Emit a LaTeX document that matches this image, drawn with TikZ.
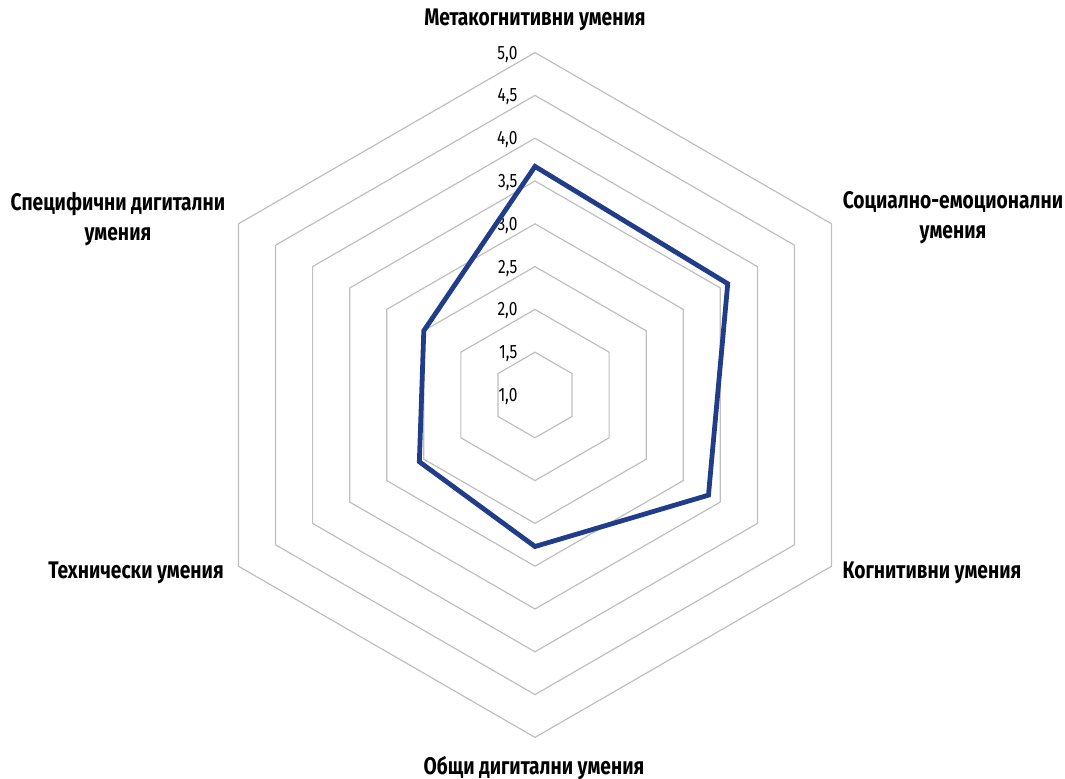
\documentclass[tikz,border=0pt]{standalone}
\usepackage{fontspec}
\setmainfont{Fira Sans}[FakeStretch=0.8]
\usepackage{xcolor}
\definecolor{gridgray}{RGB}{191,191,191}
\definecolor{seriesblue}{RGB}{33,61,138}
\tikzset{
	gridline/.style={draw=gridgray,line width=0.9pt},
	seriesline/.style={draw=seriesblue,line width=3.6pt,line join=miter},
	ticklabel/.style={anchor=east,inner sep=0pt,xshift=-13pt,yshift=-1.2pt,font=\fontsize{14.5}{16}\selectfont},
	axislabel/.style={align=center,inner sep=0pt,font=\fontsize{18}{22.5}\selectfont\bfseries}
}

\begin{document}
\begin{tikzpicture}[line cap=round,line join=miter,x=0.75pt,y=0.75pt]
		\useasboundingbox (0,0) rectangle (1065,779);
		\coordinate (O) at (535,384);
		% hexagonal grid, 1,5 ... 5,0
		\foreach \r in {1,...,8}
			\draw [gridline] ([shift={(90:\r*42.8)}]O) -- ([shift={(30:\r*42.8)}]O) -- ([shift={(-30:\r*42.8)}]O) -- ([shift={(-90:\r*42.8)}]O) -- ([shift={(210:\r*42.8)}]O) -- ([shift={(150:\r*42.8)}]O) -- cycle;
		% scale labels
		\foreach \r/\t in {0/{1,0},1/{1,5},2/{2,0},3/{2,5},4/{3,0},5/{3,5},6/{4,0},7/{4,5},8/{5,0}}
			\node [ticklabel] (tick\r) at ([shift={(90:\r*42.8)}]O) {\t};
		% data
		\coordinate (p1) at ([shift={(90:2.67*85.6)}]O);
		\coordinate (p2) at ([shift={(30:2.60*85.6)}]O);
		\coordinate (p3) at ([shift={(-30:2.34*85.6)}]O);
		\coordinate (p4) at ([shift={(-90:1.77*85.6)}]O);
		\coordinate (p5) at ([shift={(210:1.56*85.6)}]O);
		\coordinate (p6) at ([shift={(150:1.50*85.6)}]O);
		\draw [seriesline] (p1) -- (p2) -- (p3) -- (p4) -- (p5) -- (p6) -- cycle;
		% axis names
		\node [axislabel] (metacog) at (535,759) {Метакогнитивни умения};
		\node [axislabel] (socemo) at (953,561) {Социално-емоционални\\умения};
		\node [axislabel] (cognit) at (932,206) {Когнитивни умения};
		\node [axislabel] (gendig) at (534,11) {Общи дигитални умения};
		\node [axislabel] (techn) at (136,206) {Технически умения};
		\node [axislabel] (specdig) at (118,560) {Специфични дигитални\\умения};
	\end{tikzpicture}
\end{document}
